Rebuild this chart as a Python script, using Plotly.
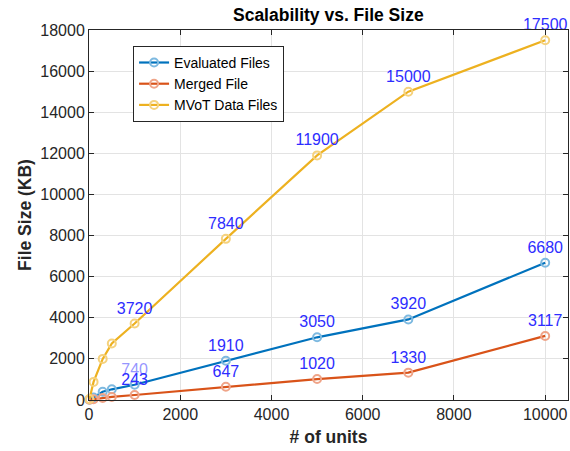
import plotly.graph_objects as go

units = [10, 100, 300, 500, 1000, 3000, 5000, 7000, 10000]
evaluated = [20, 120, 400, 520, 740, 1910, 3050, 3920, 6680]
merged = [10, 40, 100, 150, 243, 647, 1020, 1330, 3117]
mvot = [50, 880, 2000, 2750, 3720, 7840, 11900, 15000, 17500]

x_ticks = [0, 2000, 4000, 6000, 8000, 10000]
y_ticks = list(range(0, 18001, 2000))

label_from = 4  # labels shown from the 1000-unit point onward

series = [
    ("Evaluated Files", evaluated, "#0072BD", "#7DB9E0"),
    ("Merged File", merged, "#D95319", "#EFA488"),
    ("MVoT Data Files", mvot, "#EDB120", "#F5D27E"),
]

LBL = "rgb(45,45,255)"
fig = go.Figure()
for name, vals, col, light in series:
    texts = ["" if i < label_from else str(v) for i, v in enumerate(vals)]
    fig.add_trace(go.Scatter(
        x=units, y=vals, name=name, mode="lines+markers+text",
        line=dict(color=col, width=2.2),
        marker=dict(symbol="circle-open", size=8, color=light, line=dict(width=2, color=light)),
        text=texts, textposition="top center", cliponaxis=False,
        textfont=dict(color=LBL, size=16, family="Liberation Sans, Arial"),
    ))

# lighter "740" label as in reference
fig.data[0].textfont.color = [LBL] * 4 + ["rgba(130,130,255,0.85)"] + [LBL] * 4

fig.update_layout(
    width=570, height=451,
    margin=dict(l=89, r=2, t=30, b=51, autoexpand=False),
    paper_bgcolor="white", plot_bgcolor="white",
    font=dict(family="Liberation Sans, Arial", size=16, color="#262626"),
    title=dict(text="<b>Scalability vs. File Size</b>", x=0.576, xanchor="center",
               y=1 - 15 / 451, yanchor="middle", font=dict(size=17.5, color="#000000")),
    showlegend=True,
    legend=dict(x=0.092, y=0.957, xanchor="left", yanchor="top",
                bordercolor="#262626", borderwidth=1, bgcolor="white",
                font=dict(size=14, color="#000000"), tracegroupgap=0),
)
fig.update_xaxes(
    range=[0, 10500], tickvals=x_ticks, ticktext=[str(v) for v in x_ticks],
    showgrid=True, gridcolor="#E3E3E3", zeroline=False,
    showline=True, linecolor="#262626", linewidth=1, mirror="ticks",
    ticks="inside", ticklen=5, tickcolor="#262626", automargin=False,
    title=dict(text="<b># of units</b>", font=dict(size=17.5, color="#262626"), standoff=8),
)
fig.update_yaxes(
    range=[0, 18000], tickvals=y_ticks, ticktext=[str(v) for v in y_ticks],
    showgrid=True, gridcolor="#E3E3E3", zeroline=False,
    showline=True, linecolor="#262626", linewidth=1, mirror="ticks",
    ticks="inside", ticklen=5, tickcolor="#262626", automargin=False,
    title=dict(text="<b>File Size (KB)</b>", font=dict(size=17.5, color="#262626"), standoff=4),
)

fig.write_html("out.html", config={"displayModeBar": False},
               post_script="document.body.style.margin='0';document.body.style.overflow='hidden';")
